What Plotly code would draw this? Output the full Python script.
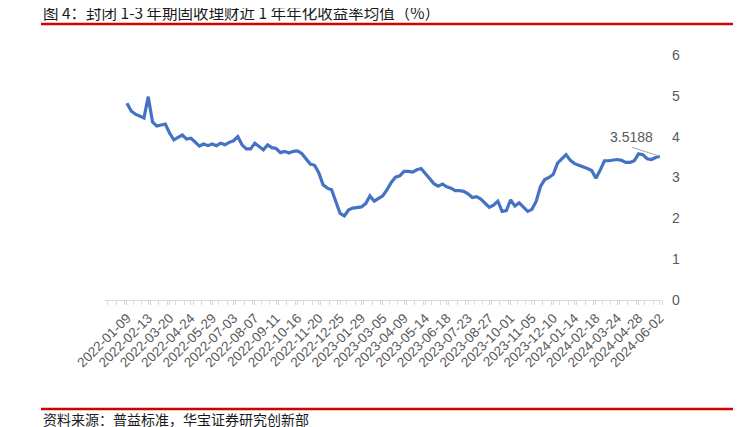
import pandas as pd
import plotly.graph_objects as go

# 封闭 1-3 年期固收理财近 1 年年化收益率均值（%），周度
start_date = "2022-01-09"
yield_avg = [
    4.82, 4.63, 4.55, 4.50, 4.46, 4.98, 4.36, 4.26, 4.28, 4.31,
    4.09, 3.92, 3.98, 4.04, 3.94, 3.96, 3.87, 3.77, 3.82, 3.78,
    3.82, 3.78, 3.84, 3.80, 3.86, 3.90, 4.00, 3.80, 3.70, 3.70,
    3.84, 3.76, 3.68, 3.80, 3.73, 3.71, 3.61, 3.64, 3.60, 3.64,
    3.65, 3.59, 3.46, 3.33, 3.30, 3.12, 2.82, 2.74, 2.70, 2.40,
    2.12, 2.06, 2.21, 2.25, 2.27, 2.28, 2.36, 2.55, 2.42, 2.49,
    2.55, 2.70, 2.88, 3.01, 3.04, 3.15, 3.15, 3.13, 3.19, 3.22,
    3.09, 2.97, 2.85, 2.79, 2.84, 2.77, 2.74, 2.68, 2.68, 2.66,
    2.60, 2.51, 2.53, 2.47, 2.38, 2.27, 2.32, 2.42, 2.17, 2.19,
    2.45, 2.30, 2.38, 2.28, 2.17, 2.22, 2.42, 2.78, 2.95, 3.00,
    3.08, 3.35, 3.45, 3.56, 3.42, 3.34, 3.30, 3.27, 3.22, 3.17,
    2.98, 3.18, 3.41, 3.41, 3.43, 3.44, 3.42, 3.37, 3.37, 3.41,
    3.58, 3.56, 3.46, 3.44, 3.49, 3.5188,
]
dates = pd.date_range(start_date, periods=len(yield_avg), freq="7D")
tick_dates = dates[::5]
tick_labels = [d.strftime("%Y-%m-%d") for d in tick_dates]
y_ticks = [0, 1, 2, 3, 4, 5, 6]

TITLE = "图 4：封闭 1-3 年期固收理财近 1 年年化收益率均值（%）"
SOURCE = "资料来源：普益标准，华宝证券研究创新部"

# the page body adds an 8px margin, so the figure is drawn 8px in
OFF = 8
W, H = 741 - OFF, 427 - OFF
L, R, T, B = 105 - OFF, 79, 55 - OFF, 127
PW, PH = W - L - R, H - T - B


def px(x):
    return (x - OFF - L) / PW


def py(y):
    return (H - B - (y - OFF)) / PH


fig = go.Figure(
    go.Scatter(
        x=dates,
        y=yield_avg,
        mode="lines",
        line=dict(color="#4472C4", width=3.2),
        hoverinfo="x+y",
    )
)

fig.add_annotation(
    x=dates[-1],
    y=yield_avg[-1],
    text=f"{yield_avg[-1]:.4f}",
    showarrow=True,
    arrowhead=0,
    arrowwidth=1,
    arrowcolor="#A6A6A6",
    ax=-28,
    ay=-9,
    xanchor="center",
    yanchor="bottom",
    font=dict(size=14, color="#595959", family="Liberation Sans, Arial"),
)

fig.add_annotation(
    xref="paper", yref="paper", x=px(41), y=py(12),
    text=TITLE, showarrow=False, xanchor="left", yanchor="middle",
    font=dict(size=15.5, color="#1a1a1a", family="Noto Sans CJK SC"),
)
fig.add_annotation(
    xref="paper", yref="paper", x=px(41), y=py(419),
    text=SOURCE, showarrow=False, xanchor="left", yanchor="middle",
    font=dict(size=14, color="#1a1a1a", family="Noto Sans CJK SC"),
)

for yy in (24, 409):
    fig.add_shape(
        type="line", xref="paper", yref="paper",
        x0=px(41), x1=px(737), y0=py(yy), y1=py(yy),
        line=dict(color="#D40000", width=2.5),
    )

fig.update_layout(
    width=W,
    height=H,
    margin=dict(l=L, r=R, t=T, b=B),
    paper_bgcolor="white",
    plot_bgcolor="white",
    showlegend=False,
    xaxis=dict(
        range=["2021-12-04", "2024-06-05 12:00"],
        tickvals=tick_dates,
        ticktext=tick_labels,
        tickangle=-45,
        ticks="outside",
        ticklen=4,
        tickcolor="#D9D9D9",
        minor=dict(ticks="outside", ticklen=4, tickcolor="#D9D9D9",
                   dtick=14 * 86400000, tick0="2022-01-05 12:00"),
        showline=True,
        linecolor="#D9D9D9",
        linewidth=1,
        showgrid=False,
        zeroline=False,
        tickfont=dict(size=13.5, color="#595959", family="Liberation Sans, Arial"),
    ),
    yaxis=dict(
        range=[0, 6],
        side="right",
        tickvals=y_ticks,
        ticks="",
        ticklabelstandoff=9,
        showline=False,
        showgrid=False,
        zeroline=False,
        tickfont=dict(size=14, color="#595959", family="Liberation Sans, Arial"),
    ),
)

fig.write_html("out.html")
